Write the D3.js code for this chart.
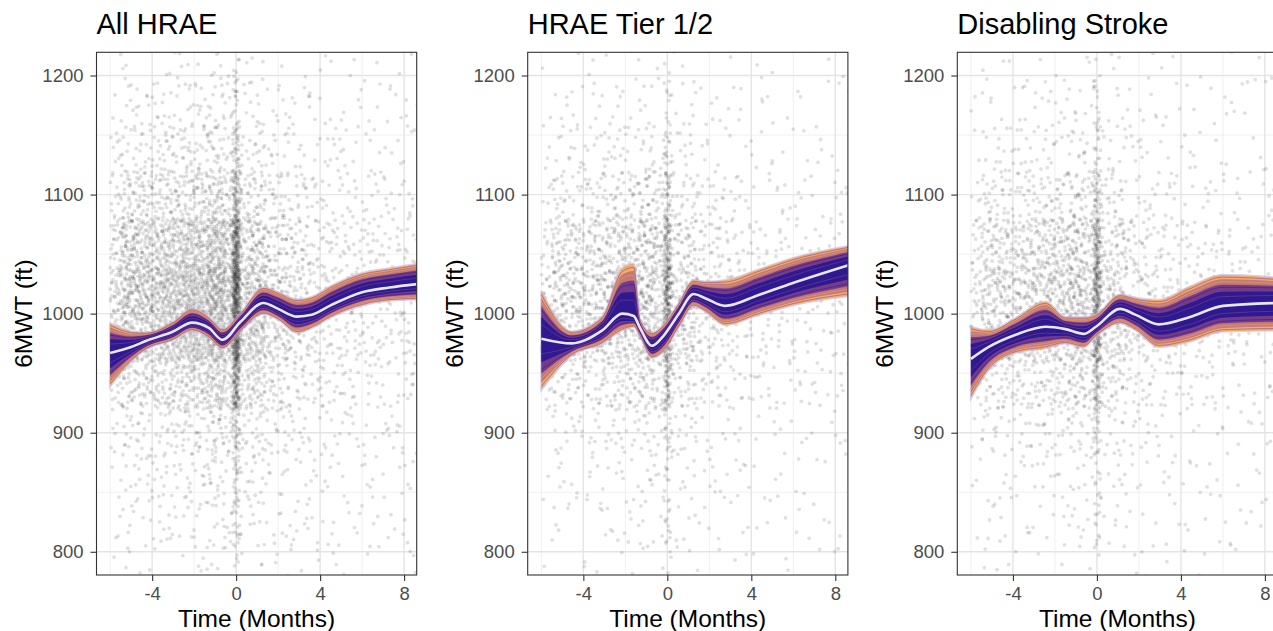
<!DOCTYPE html>
<html>
<head>
<meta charset="utf-8">
<script src="https://cdn.jsdelivr.net/npm/d3@7"></script>
<style>
  body { margin: 0; background: #fff; }
  svg text { font-family: "Liberation Sans", Arial, Helvetica, sans-serif; }
</style>
</head>
<body>
<div id="chart"></div>
<script>
// ---- data -------------------------------------------------------------

var panelTitles = ["All HRAE", "HRAE Tier 1/2", "Disabling Stroke"];

var xTicks = [-4, 0, 4, 8];
var xMinorTicks = [-6, -2, 2, 6];
var yTicks = [800, 900, 1000, 1100, 1200];
var yMinorTicks = [850, 950, 1050, 1150];

var xBinEdges = [-6, -5, -4, -3, -2, -1, -0.15, 0.15, 1, 2, 3, 4, 5, 6, 7, 8, 8.7];
var yBinEdges = [780, 820, 860, 900, 940, 980, 1020, 1060, 1100, 1140, 1180, 1220];

// Point counts: one array per x bin, bottom (800) to top (1200).
var hraeDensity = [
  [6, 7, 10, 18, 50, 95, 92, 45, 22, 11, 7],
  [6, 8, 11, 20, 60, 108, 104, 52, 25, 12, 7],
  [7, 9, 12, 24, 68, 120, 115, 58, 28, 13, 8],
  [8, 10, 14, 30, 82, 138, 130, 66, 32, 15, 9],
  [10, 12, 18, 38, 98, 158, 150, 75, 36, 17, 10],
  [12, 15, 22, 45, 115, 175, 168, 85, 40, 19, 12],
  [13, 13, 16, 32, 100, 135, 125, 65, 24, 14, 10],
  [10, 12, 16, 34, 100, 138, 118, 55, 28, 14, 9],
  [8, 9, 11, 20, 50, 72, 66, 34, 16, 10, 7],
  [7, 8, 10, 15, 36, 52, 48, 26, 14, 8, 6],
  [6, 6, 8, 11, 24, 32, 29, 18, 10, 6, 5],
  [5, 5, 7, 10, 18, 24, 22, 14, 9, 5, 5],
  [5, 5, 6, 9, 16, 22, 20, 13, 8, 5, 4],
  [4, 5, 6, 8, 15, 20, 18, 12, 7, 5, 4],
  [4, 4, 5, 7, 13, 18, 16, 11, 6, 4, 4],
  [3, 3, 4, 5, 9, 12, 11, 8, 4, 3, 3]
];

var tierDensity = [
  [3, 4, 5, 10, 25, 44, 42, 22, 10, 5, 3],
  [3, 4, 6, 11, 30, 54, 52, 26, 11, 6, 3],
  [4, 5, 6, 12, 35, 60, 58, 29, 12, 6, 3],
  [4, 5, 7, 15, 42, 70, 66, 34, 14, 7, 4],
  [5, 6, 9, 19, 50, 80, 76, 40, 17, 8, 4],
  [6, 7, 10, 22, 60, 90, 85, 46, 20, 9, 5],
  [7, 7, 9, 16, 50, 68, 64, 34, 12, 7, 5],
  [5, 6, 8, 17, 52, 70, 60, 30, 14, 7, 5],
  [4, 5, 6, 10, 26, 36, 34, 18, 9, 5, 4],
  [4, 4, 5, 8, 18, 26, 25, 14, 7, 4, 3],
  [3, 3, 4, 6, 13, 17, 15, 10, 5, 3, 3],
  [3, 3, 4, 5, 10, 13, 12, 8, 4, 3, 3],
  [3, 3, 3, 4, 9, 12, 11, 7, 4, 3, 2],
  [2, 3, 3, 4, 8, 11, 10, 6, 3, 3, 2],
  [2, 2, 3, 4, 7, 10, 9, 6, 3, 2, 2],
  [2, 2, 2, 3, 5, 6, 6, 4, 2, 2, 2]
];

var strokeDensity = [
  [3, 4, 6, 12, 30, 48, 45, 23, 10, 5, 3],
  [3, 4, 6, 13, 34, 58, 54, 27, 11, 6, 3],
  [4, 5, 7, 14, 38, 64, 60, 30, 12, 6, 4],
  [4, 5, 8, 16, 44, 72, 66, 34, 14, 7, 4],
  [5, 6, 9, 19, 50, 82, 76, 39, 16, 8, 4],
  [6, 7, 10, 23, 60, 90, 85, 45, 19, 9, 5],
  [7, 7, 9, 18, 55, 72, 68, 38, 13, 7, 5],
  [5, 6, 8, 18, 54, 70, 60, 30, 14, 7, 5],
  [4, 5, 6, 11, 26, 36, 32, 17, 8, 5, 4],
  [4, 4, 5, 8, 18, 25, 23, 13, 7, 4, 3],
  [3, 3, 4, 7, 13, 17, 15, 10, 5, 3, 3],
  [3, 3, 4, 6, 11, 14, 13, 9, 4, 3, 3],
  [3, 3, 3, 5, 10, 13, 12, 8, 4, 3, 2],
  [2, 3, 3, 4, 9, 12, 11, 7, 3, 3, 2],
  [2, 2, 3, 4, 8, 11, 10, 6, 3, 2, 2],
  [2, 2, 2, 3, 5, 7, 6, 4, 2, 2, 2]
];

// Posterior trajectory: mean and outer envelope of the drawn lines.
var hraeMonths = [-6, -5, -4.3, -3, -2.1, -1.3, -0.65, 0.2, 1.3, 2, 2.9, 3.6, 4.5, 6, 7.3, 8.7];
var hraeMean   = [967, 972, 977, 985, 992.5, 988, 978, 993, 1009, 1004, 997.5, 999, 1007, 1018, 1022, 1025];
var hraeLo     = [939, 960, 970, 978, 986, 980, 971, 985, 1000, 995, 984, 988, 997, 1007, 1011, 1012];
var hraeHi     = [992, 985, 984, 993, 1004, 997, 987, 1000, 1022, 1018, 1012, 1014, 1023, 1034, 1038, 1042];

var tierMonths = [-6, -4.55, -3.1, -2.15, -1.6, -1.3, -0.73, -0.2, 0.55, 1.25, 1.8, 2.75, 4.35, 5.95, 8.7];
var tierMean   = [979, 975, 986, 1000, 998, 988, 973, 981, 1000, 1016.5, 1013, 1006.5, 1015.7, 1025.5, 1041];
var tierLo     = [936, 965, 975, 986, 989, 981, 963, 968, 989, 1006.5, 1002, 990.5, 999, 1007, 1015];
var tierHi     = [1019, 985, 997.5, 1038, 1042, 995, 984, 990, 1009, 1028, 1027, 1028, 1037, 1046.5, 1057];

var strokeMonths = [-6, -5.15, -3.9, -2.45, -1.5, -0.63, -0.05, 1.1, 1.85, 2.95, 4.4, 6, 8.7];
var strokeMean   = [962, 972, 982, 989, 987, 983, 989, 1004, 999, 991, 997, 1006.5, 1009];
var strokeLo     = [929, 953, 967, 971, 975, 972, 981, 992, 986, 972, 976.5, 985, 986];
var strokeHi     = [989, 986, 996, 1010, 997, 997, 999, 1016, 1013, 1011.5, 1022.5, 1032.5, 1030];

var panels = [
  {title: panelTitles[0], density: hraeDensity, months: hraeMonths, mean: hraeMean, lo: hraeLo, hi: hraeHi},
  {title: panelTitles[1], density: tierDensity, months: tierMonths, mean: tierMean, lo: tierLo, hi: tierHi},
  {title: panelTitles[2], density: strokeDensity, months: strokeMonths, mean: strokeMean, lo: strokeLo, hi: strokeHi}
];

// ---- layout -----------------------------------------------------------

var width = 1273, height = 631;
var panelLeft = [96.5, 527.7, 957.3];
var panelWidth = 320.2;
var panelTop = 52.3, panelBottom = 575;

// Each bin's points are spread over twice its size (half a bin past each edge),
// so neighbouring bins blend instead of forming steps.
var spill = 0.5;

// Nested shading of the trajectory band, outside (orange) to inside (indigo).
var bandLayers = [
  {k: 1.00, color: "#f3a866", opacity: 0.95},
  {k: 0.86, color: "#b9707a", opacity: 0.85},
  {k: 0.68, color: "#67308c", opacity: 0.85},
  {k: 0.46, color: "#2b1790", opacity: 0.95}
];

// Thin streaks that give the band its "many draws" texture.
var streaks = [
  {f: -0.93, color: "#7a3a8c"}, {f: -0.78, color: "#f3a866"}, {f: -0.6, color: "#2b1790"},
  {f: -0.3, color: "#8a4a8a"}, {f: 0.3, color: "#8a4a8a"}, {f: 0.6, color: "#2b1790"},
  {f: 0.78, color: "#f3a866"}, {f: 0.93, color: "#7a3a8c"}
];

var svg = d3.select("#chart").append("svg")
    .attr("width", width)
    .attr("height", height);

// Low-discrepancy sequence used to lay points out inside a bin (no randomness).
function halton(i, base) {
  var f = 1, r = 0;
  while (i > 0) {
    f /= base;
    r += f * (i % base);
    i = Math.floor(i / base);
  }
  return r;
}

var xFirst = xBinEdges[0], xLast = xBinEdges[xBinEdges.length - 1];

panels.forEach(function(p, pi) {

  var left = panelLeft[pi];

  var x = d3.scaleLinear().domain([-6.65, 8.6]).range([left, left + panelWidth]);
  var y = d3.scaleLinear().domain([780.5, 1219.5]).range([panelBottom, panelTop]);

  var g = svg.append("g");

  g.append("clipPath")
      .attr("id", "clip" + pi)
    .append("rect")
      .attr("x", left)
      .attr("y", panelTop)
      .attr("width", panelWidth)
      .attr("height", panelBottom - panelTop);

  // Grid
  var grid = g.append("g");
  grid.selectAll(".minor-x").data(xMinorTicks).enter().append("line")
      .attr("x1", function(d) { return x(d); }).attr("x2", function(d) { return x(d); })
      .attr("y1", panelTop).attr("y2", panelBottom)
      .attr("stroke", "#ebebeb").attr("stroke-width", 0.8);
  grid.selectAll(".minor-y").data(yMinorTicks).enter().append("line")
      .attr("x1", left).attr("x2", left + panelWidth)
      .attr("y1", function(d) { return y(d); }).attr("y2", function(d) { return y(d); })
      .attr("stroke", "#ebebeb").attr("stroke-width", 0.8);
  grid.selectAll(".major-x").data(xTicks).enter().append("line")
      .attr("x1", function(d) { return x(d); }).attr("x2", function(d) { return x(d); })
      .attr("y1", panelTop).attr("y2", panelBottom)
      .attr("stroke", "#e4e4e4").attr("stroke-width", 1.4);
  grid.selectAll(".major-y").data(yTicks).enter().append("line")
      .attr("x1", left).attr("x2", left + panelWidth)
      .attr("y1", function(d) { return y(d); }).attr("y2", function(d) { return y(d); })
      .attr("stroke", "#e4e4e4").attr("stroke-width", 1.4);

  // Observed points, built from the bin counts
  var pts = [];
  var k = 1 + pi * 997;
  p.density.forEach(function(col, xi) {
    var x0 = xBinEdges[xi], x1 = xBinEdges[xi + 1];
    var narrow = (x1 - x0) < 0.5;            // the month-0 streak keeps its width
    var sx = narrow ? 0 : spill * (x1 - x0);
    var lo = Math.max(xFirst, x0 - sx), hi = Math.min(xLast, x1 + sx);
    col.forEach(function(n, yi) {
      var y0 = yBinEdges[yi], y1 = yBinEdges[yi + 1];
      var sy = spill * (y1 - y0);
      for (var j = 0; j < n; j++, k++) {
        pts.push([
          lo + halton(k, 2) * (hi - lo),
          (y0 - sy) + halton(k, 3) * (y1 - y0 + 2 * sy)
        ]);
      }
    });
  });

  var inner = g.append("g").attr("clip-path", "url(#clip" + pi + ")");

  inner.append("g").selectAll("circle")
      .data(pts)
      .enter().append("circle")
      .attr("cx", function(d) { return x(d[0]); })
      .attr("cy", function(d) { return y(d[1]); })
      .attr("r", 1.9)
      .attr("fill", "#000")
      .attr("fill-opacity", 0.12);

  // Trajectory band
  var rows = p.months.map(function(m, i) {
    return {m: m, mean: p.mean[i], lo: p.lo[i], hi: p.hi[i]};
  });

  var outline = d3.area()
      .curve(d3.curveMonotoneX)
      .x(function(d) { return x(d.m); })
      .y0(function(d) { return y(d.lo); })
      .y1(function(d) { return y(d.hi); });

  inner.append("path")
      .datum(rows)
      .attr("d", outline)
      .attr("fill", "none")
      .attr("stroke", "#b9b2ea")
      .attr("stroke-opacity", 0.6)
      .attr("stroke-width", 2.2);

  bandLayers.forEach(function(layer) {
    var area = d3.area()
        .curve(d3.curveMonotoneX)
        .x(function(d) { return x(d.m); })
        .y0(function(d) { return y(d.mean - layer.k * (d.mean - d.lo)); })
        .y1(function(d) { return y(d.mean + layer.k * (d.hi - d.mean)); });

    inner.append("path")
        .datum(rows)
        .attr("d", area)
        .attr("fill", layer.color)
        .attr("fill-opacity", layer.opacity);
  });

  streaks.forEach(function(s) {
    var line = d3.line()
        .curve(d3.curveMonotoneX)
        .x(function(d) { return x(d.m); })
        .y(function(d) { return y(s.f < 0 ? d.mean + s.f * (d.mean - d.lo) : d.mean + s.f * (d.hi - d.mean)); });

    inner.append("path")
        .datum(rows)
        .attr("d", line)
        .attr("fill", "none")
        .attr("stroke", s.color)
        .attr("stroke-opacity", 0.55)
        .attr("stroke-width", 0.9);
  });

  var meanLine = d3.line()
      .curve(d3.curveMonotoneX)
      .x(function(d) { return x(d.m); })
      .y(function(d) { return y(d.mean); });

  inner.append("path")
      .datum(rows)
      .attr("d", meanLine)
      .attr("fill", "none")
      .attr("stroke", "#e9e7f5")
      .attr("stroke-width", 2.6);

  // Panel border
  g.append("rect")
      .attr("x", left)
      .attr("y", panelTop)
      .attr("width", panelWidth)
      .attr("height", panelBottom - panelTop)
      .attr("fill", "none")
      .attr("stroke", "#333")
      .attr("stroke-width", 1.1);

  // Axes
  var fmt = function(d) { return String(d); };

  var xAxis = g.append("g")
      .attr("transform", "translate(0," + panelBottom + ")")
      .call(d3.axisBottom(x).tickValues(xTicks).tickSize(6).tickPadding(6).tickFormat(fmt));

  var yAxis = g.append("g")
      .attr("transform", "translate(" + left + ",0)")
      .call(d3.axisLeft(y).tickValues(yTicks).tickSize(6).tickPadding(7).tickFormat(fmt));

  [xAxis, yAxis].forEach(function(a) {
    a.select(".domain").remove();
    a.selectAll(".tick line").attr("stroke", "#333").attr("stroke-width", 1.1);
    a.selectAll(".tick text")
        .attr("fill", "#4d4d4d")
        .style("font-size", "18.5px");
  });

  // Titles
  g.append("text")
      .attr("x", left)
      .attr("y", 33.5)
      .attr("fill", "#000")
      .style("font-size", "29px")
      .text(p.title);

  g.append("text")
      .attr("x", left + panelWidth / 2)
      .attr("y", 627)
      .attr("text-anchor", "middle")
      .attr("fill", "#000")
      .style("font-size", "24.5px")
      .text("Time (Months)");

  g.append("text")
      .attr("transform", "translate(" + (left - 64.5) + "," + ((panelTop + panelBottom) / 2) + ") rotate(-90)")
      .attr("text-anchor", "middle")
      .attr("fill", "#000")
      .style("font-size", "24.5px")
      .text("6MWT (ft)");
});
</script>
</body>
</html>
